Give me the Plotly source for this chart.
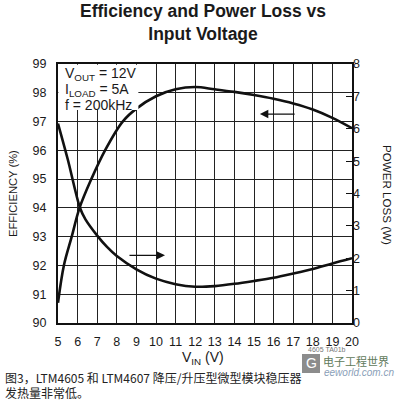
import plotly.graph_objects as go

# ---- data ----
vin_eff = [5, 5.3, 5.7, 6.1, 6.7, 7.4, 8.3, 9, 10, 11, 12, 13, 14, 15, 16, 17, 18, 19, 20]
efficiency = [90.7, 92.0, 93.0, 94.0, 95.0, 96.0, 97.0, 97.45, 97.88, 98.12, 98.2, 98.12,
              98.03, 97.92, 97.79, 97.63, 97.42, 97.13, 96.77]
vin_loss = [5, 5.5, 6.12, 6.4, 7, 7.5, 8, 9, 10, 11, 12, 13, 14, 15, 16, 17, 18, 19, 20]
power_loss = [6.16, 5.05, 3.56, 3.2, 2.7, 2.35, 2.07, 1.66, 1.37, 1.2, 1.12, 1.14,
              1.21, 1.3, 1.4, 1.53, 1.67, 1.84, 2.0]
x_ticks = list(range(5, 21))
eff_ticks = list(range(90, 100))
loss_ticks = list(range(0, 9))

W, H = 400, 405
L, R, T, B = 58, 48, 64, 82
PW, PH = W - L - R, H - T - B


def px(x):
    return (x - L) / PW


def py(y):
    return (H - B - y) / PH


FONT = "Liberation Sans, Arial, sans-serif"
INK = "#1a1a1a"

fig = go.Figure()
fig.add_trace(go.Scatter(x=vin_eff, y=efficiency, mode="lines",
                         line=dict(color="#111", width=2.6, shape="spline", smoothing=1.0),
                         showlegend=False, hoverinfo="skip"))
fig.add_trace(go.Scatter(x=vin_loss, y=power_loss, mode="lines", yaxis="y2",
                         line=dict(color="#111", width=2.6, shape="spline", smoothing=0.9),
                         showlegend=False, hoverinfo="skip"))

ann = []
ann.append(dict(text="<b>Efficiency and Power Loss vs<br>Input Voltage</b>", x=px(203), y=py(22.5),
                xref="paper", yref="paper", showarrow=False, xanchor="center", yanchor="middle",
                font=dict(family=FONT, size=17.5, color=INK)))
ann.append(dict(text="EFFICIENCY (%)", x=px(13), y=py(194), xref="paper", yref="paper",
                showarrow=False, textangle=-90, xanchor="center", yanchor="middle",
                font=dict(family=FONT, size=11.2, color=INK)))
ann.append(dict(text="POWER LOSS (W)", x=px(388), y=py(195), xref="paper", yref="paper",
                showarrow=False, textangle=90, xanchor="center", yanchor="middle",
                font=dict(family=FONT, size=11.6, color=INK)))
ann.append(dict(text="V<sub>IN</sub> (V)", x=px(203), y=py(358), xref="paper", yref="paper",
                showarrow=False, xanchor="center", yanchor="middle",
                font=dict(family=FONT, size=14, color=INK)))
for txt, yy in [("V<sub>OUT</sub> = 12V", 74), ("I<sub>LOAD</sub> = 5A", 90), ("f = 200kHz", 105)]:
    ann.append(dict(text=txt, x=px(63), y=py(yy), xref="paper", yref="paper", showarrow=False,
                    xanchor="left", yanchor="middle", font=dict(family=FONT, size=14, color=INK)))
ann.append(dict(x=15.3, y=97.26, ax=17.15, ay=97.26, xref="x", yref="y", axref="x", ayref="y",
                text="", showarrow=True, arrowhead=2, arrowsize=1.3, arrowwidth=1.3, arrowcolor="#111"))
ann.append(dict(x=10.46, y=92.35, ax=8.57, ay=92.35, xref="x", yref="y", axref="x", ayref="y",
                text="", showarrow=True, arrowhead=2, arrowsize=1.3, arrowwidth=1.3, arrowcolor="#111"))
ann.append(dict(text="4605 TA01b", x=px(306), y=py(349), xref="paper", yref="paper", showarrow=False,
                xanchor="left", yanchor="middle", font=dict(family=FONT, size=7, color="#777")))
ann.append(dict(text="图3，LTM4605 和 LTM4607 降压/升压型微型模块稳压器", x=px(3), y=py(377),
                xref="paper", yref="paper", showarrow=False, xanchor="left", yanchor="middle",
                font=dict(family="Noto Sans CJK SC", size=12, color="#222")))
ann.append(dict(text="发热量非常低。", x=px(3), y=py(392),
                xref="paper", yref="paper", showarrow=False, xanchor="left", yanchor="middle",
                font=dict(family="Noto Sans CJK SC", size=12, color="#222")))
ann.append(dict(text="电子工程世界", x=px(321), y=py(361), xref="paper", yref="paper", showarrow=False,
                xanchor="left", yanchor="middle", font=dict(family="Noto Sans CJK SC", size=11, color="#5f7a5a")))
ann.append(dict(text="<i>eeworld.com.cn</i>", x=px(322), y=py(372), xref="paper", yref="paper",
                showarrow=False, xanchor="left", yanchor="middle",
                font=dict(family=FONT, size=10, color="#8aa0b8")))
ann.append(dict(text="G", x=px(311), y=py(363), xref="paper", yref="paper", showarrow=False,
                xanchor="center", yanchor="middle", font=dict(family=FONT, size=14, color="white")))

shapes = [
    dict(type="rect", xref="x", yref="y", x0=5.02, x1=9.1, y0=97.4, y1=98.97, fillcolor="white",
         line=dict(width=0), layer="above"),
    dict(type="rect", xref="paper", yref="paper", x0=px(302), x1=px(320), y0=py(373), y1=py(354),
         fillcolor="#8c8c8c", line=dict(width=0), layer="above"),
]

fig.update_layout(
    width=W, height=H, margin=dict(l=L, r=R, t=T, b=B, autoexpand=False),
    paper_bgcolor="white", plot_bgcolor="white",
    annotations=ann, shapes=shapes,
    xaxis=dict(range=[5, 20], tickmode="array", tickvals=x_ticks, showgrid=True, gridcolor="#222",
               gridwidth=1.3, ticks="outside", ticklen=6, tickcolor="rgba(0,0,0,0)",
               showline=True, linecolor="#111", linewidth=2, mirror=True, zeroline=False,
               tickfont=dict(family=FONT, size=12.5, color=INK)),
    yaxis=dict(range=[90, 99], tickmode="array", tickvals=eff_ticks, showgrid=True, gridcolor="#222",
               gridwidth=1.3, ticks="outside", ticklen=7, tickcolor="rgba(0,0,0,0)",
               showline=True, linecolor="#111", linewidth=2, mirror=True, zeroline=False,
               tickfont=dict(family=FONT, size=12.5, color=INK)),
    yaxis2=dict(range=[0, 8], tickmode="array", tickvals=loss_ticks, overlaying="y", side="right",
                showgrid=False, ticks="inside", ticklen=6, tickwidth=1.2, tickcolor="#111",
                showline=False, zeroline=False,
                tickfont=dict(family=FONT, size=12.5, color=INK)),
)

fig.write_html("out.html", post_script="document.body.style.margin='0';",
               config={"displayModeBar": False})
